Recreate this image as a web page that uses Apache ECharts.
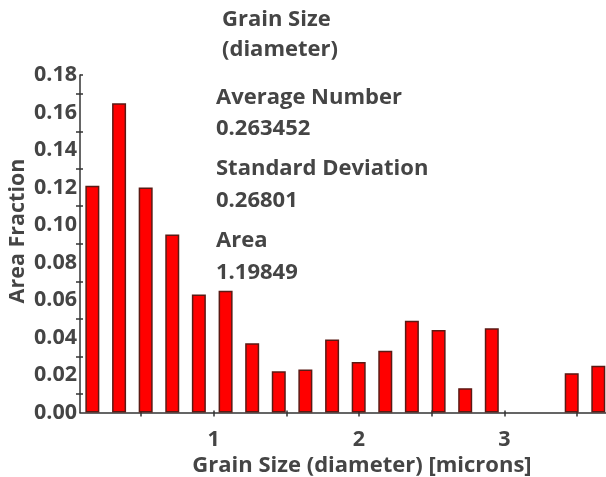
<!DOCTYPE html>
<html>
<head>
<meta charset="utf-8">
<script src="https://cdn.jsdelivr.net/npm/echarts@6/dist/echarts.min.js"></script>
<style>
  html, body { margin: 0; padding: 0; background: #fff; }
  #chart { width: 606px; height: 477px; }
</style>
</head>
<body>
<div id="chart"></div>
<script>
// Histogram bins: centre of each grain-size bin (microns) and its area fraction
const binCenters = [0.165, 0.349, 0.532, 0.715, 0.898, 1.082, 1.265, 1.448, 1.631, 1.815,
                    1.998, 2.181, 2.364, 2.548, 2.731, 2.914, 3.097, 3.280, 3.464, 3.647];
const areaFraction = [0.121, 0.165, 0.120, 0.095, 0.063, 0.065, 0.037, 0.022, 0.023, 0.039,
                      0.027, 0.033, 0.049, 0.044, 0.013, 0.045, null, null, 0.021, 0.025];

// Axis tick positions and labels
const xTickValues = [0.5, 1, 1.5, 2, 2.5, 3, 3.5];
const xLabelValues = [1, 2, 3];
const yTickValues = [0.01, 0.03, 0.05, 0.07, 0.09, 0.11, 0.13, 0.15, 0.17];
const yLabelValues = [0, 0.02, 0.04, 0.06, 0.08, 0.10, 0.12, 0.14, 0.16, 0.18];

// Summary statistics block
const statLines = ['Grain Size', '(diameter)', 'Average Number', '0.263452',
                   'Standard Deviation', '0.26801', 'Area', '1.19849'];

const xTitle = 'Grain Size (diameter) [microns]';
const yTitle = 'Area Fraction';

const FONT = '"Open Sans", sans-serif';
const TEXT = '#454545';
const AXIS = '#333';
const FS = 21.5;
const FS_TEXT = 22;

const chart = echarts.init(document.getElementById('chart'), null, { renderer: 'canvas' });

const statX = [222, 222, 216, 216, 216, 216, 216, 216];
const statY = [20, 50, 98, 129, 169, 201, 241, 273];
const graphics = statLines.map((s, i) => ({
  type: 'text',
  x: statX[i],
  y: statY[i],
  style: { text: s, fill: TEXT, font: 'bold ' + FS_TEXT + 'px ' + FONT, textVerticalAlign: 'middle' }
}));
// axis titles
graphics.push({
  type: 'text',
  x: 18,
  y: 231,
  rotation: Math.PI / 2,
  style: {
    text: yTitle, fill: TEXT, font: 'bold ' + FS + 'px ' + FONT,
    textAlign: 'center', textVerticalAlign: 'middle'
  }
});
graphics.push({
  type: 'text',
  x: 362,
  y: 466,
  style: {
    text: xTitle, fill: TEXT, font: 'bold ' + FS_TEXT + 'px ' + FONT,
    textAlign: 'center', textVerticalAlign: 'middle'
  }
});

const labelStyle = { color: TEXT, fontFamily: FONT, fontWeight: 'bold', fontSize: FS };

chart.setOption({
  animation: false,
  grid: { left: 80, right: 0, top: 75, bottom: 64.5, containLabel: false, outerBoundsMode: 'none' },
  xAxis: [{
    type: 'value',
    min: 0.08,
    max: 3.70,
    axisLine: { show: true, lineStyle: { color: AXIS, width: 1.5 } },
    axisTick: { show: true, customValues: xTickValues, length: 4, lineStyle: { color: AXIS, width: 1.5 } },
    axisLabel: Object.assign({ customValues: xLabelValues, margin: 16 }, labelStyle),
    splitLine: { show: false }
  }, {
    // inward half of the crossing ticks
    type: 'value', position: 'bottom', min: 0.08, max: 3.70,
    axisLine: { show: false },
    axisTick: { show: true, inside: true, customValues: xTickValues, length: 2, lineStyle: { color: AXIS, width: 1.5 } },
    axisLabel: { show: false }, splitLine: { show: false }
  }],
  yAxis: [{
    type: 'value',
    min: 0,
    max: 0.18,
    axisLine: { show: true, lineStyle: { color: AXIS, width: 1.5 } },
    axisTick: { show: true, customValues: yTickValues, length: 4, lineStyle: { color: AXIS, width: 1.5 } },
    axisLabel: Object.assign({ customValues: yLabelValues, formatter: v => v.toFixed(2), margin: 3 }, labelStyle),
    splitLine: { show: false }
  }, {
    type: 'value', position: 'left', min: 0, max: 0.18,
    axisLine: { show: false },
    axisTick: { show: true, inside: true, customValues: yTickValues.concat([0.18]), length: 3, lineStyle: { color: AXIS, width: 1.5 } },
    axisLabel: { show: false }, splitLine: { show: false }
  }],
  series: [{
    type: 'bar',
    barWidth: 14,
    data: binCenters.map((x, i) => [x, areaFraction[i]]),
    itemStyle: { color: '#ff0000', borderColor: '#5a1a14', borderWidth: 1.5 }
  }],
  graphic: graphics
});
</script>
</body>
</html>
